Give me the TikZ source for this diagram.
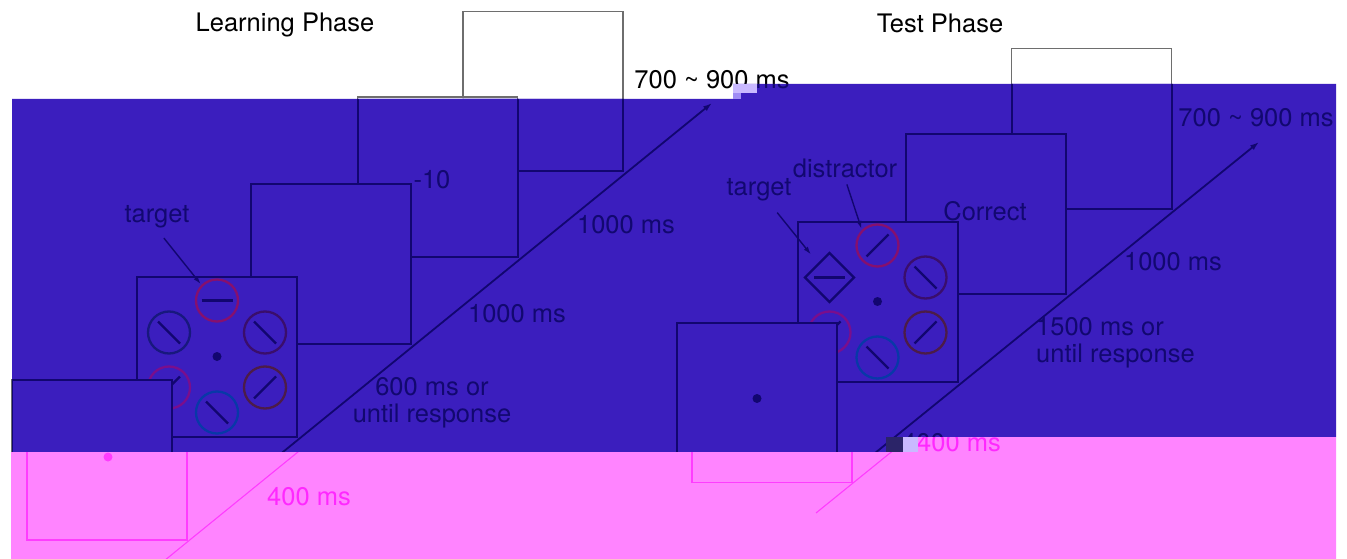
\documentclass[tikz,border=0pt]{standalone}
\usepackage{fontspec}
\setmainfont{TeX Gyre Heros}
\usepackage{tikz}
\usetikzlibrary{shapes.geometric, arrows.meta, positioning, calc}
\usepackage{xcolor}
\definecolor{bluewash}{HTML}{3B1EBE}
\definecolor{pinkwash}{HTML}{FF84FF}
\definecolor{navyline}{HTML}{120670}
\definecolor{navytext}{HTML}{120870}
\definecolor{pinkline}{HTML}{FF3CFF}
\definecolor{pinktext}{HTML}{FF28FF}
\definecolor{framegray}{HTML}{6E6E6E}
\definecolor{ringred}{HTML}{86106E}
\definecolor{ringnavy}{HTML}{18187E}
\definecolor{ringplum}{HTML}{3A0E6C}
\definecolor{ringviolet}{HTML}{7A0E8C}
\definecolor{ringbrown}{HTML}{4C1C48}
\definecolor{ringblue}{HTML}{0838A8}
\definecolor{glitchlight}{HTML}{C9B9FF}
\definecolor{glitchpale}{HTML}{9F8CF5}
\definecolor{glitchdark}{HTML}{2B2468}
\colorlet{fgcol}{framegray}
\colorlet{txcol}{black}
\colorlet{bgcol}{white}

\tikzset{
    screen/.style={draw=fgcol, fill=bgcol, line width=1.4pt, minimum width=160pt, minimum height=160pt, inner sep=0pt},
    ring/.style={circle, draw=#1, line width=2.3pt, minimum size=42pt, inner sep=0pt},
    bar/.style={draw=fgcol, line width=2.4pt},
    fixdot/.style={circle, fill=fgcol, minimum size=9pt, inner sep=0pt},
    lbl/.style={text=txcol, font=\fontsize{25.5}{27}\selectfont, inner sep=1pt},
    ptr/.style={draw=fgcol, line width=1.4pt, -{Latex[length=8pt,width=5pt]}},
    timeline/.style={draw=fgcol, line width=1.4pt, -{Latex[length=9pt,width=6pt]}},
}

% bars inside the search items
\newcommand{\backbar}[1]{\draw[bar] ($(#1)+(-11,-11)$) -- ($(#1)+(11,11)$);}
\newcommand{\fwdbar}[1]{\draw[bar] ($(#1)+(-11,11)$) -- ($(#1)+(11,-11)$);}
\newcommand{\flatbar}[1]{\draw[bar] ($(#1)+(-15.5,0)$) -- ($(#1)+(15.5,0)$);}

% both trial sequences
\newcommand{\drawtrials}{%
    % learning phase
    \node[lbl] (lphase) at (285,25) {Learning Phase};
    \node[screen] (liti) at (543,91.5) {};
    \node[screen] (lfeed) at (437.5,177) {};
    \node[lbl] (lfeedtxt) at (432,180) {-10};
    \node[screen] (lblank) at (331,264) {};
    \node[screen] (lsearch) at (217,356.5) {};
    \node[ring=ringred] (ltop) at ($(lsearch)+(0,-56)$) {};
    \node[ring=ringnavy] (lul) at ($(lsearch)+(-48,-24)$) {};
    \node[ring=ringplum] (lur) at ($(lsearch)+(48,-24)$) {};
    \node[ring=ringviolet] (lll) at ($(lsearch)+(-48,31)$) {};
    \node[ring=ringbrown] (llr) at ($(lsearch)+(48,31)$) {};
    \node[ring=ringblue] (lbot) at ($(lsearch)+(0,56)$) {};
    \flatbar{ltop}
    \backbar{lul}
    \backbar{lur}
    \fwdbar{lll}
    \fwdbar{llr}
    \backbar{lbot}
    \node[fixdot] (ldot) at (lsearch) {};
    \node[lbl] (ltarglab) at (157,217) {target};
    \draw[ptr, shorten <=11pt, shorten >=1pt] (ltarglab.south) -- (ltop.north west);
    \node[screen] (lfix) at (92,460) {};
    \node[fixdot] (lfixdot) at ($(lfix)+(1,-3)$) {};
    \coordinate (lstart) at (144,565);
    \coordinate (lend) at (712,103);
    \draw[timeline] (lstart) -- (lend);
    \node[lbl] (lt1) at (712,80) {700 \textasciitilde{} 900 ms};
    \node[lbl] (lt2) at (626,225) {1000 ms};
    \node[lbl] (lt3) at (517,314) {1000 ms};
    \node[lbl, align=center] (lt4) at (432,403) {600 ms or\\until response};
    \node[lbl] (lt5) at (294,497) {400 ms};
    % test phase
    \node[lbl] (tphase) at (940,23) {Test Phase};
    \node[screen] (titi) at (1091.5,128.5) {};
    \node[screen] (tfeed) at (986,214) {};
    \node[lbl] (tfeedtxt) at (985,211) {Correct};
    \node[screen] (tsearch) at (877.5,301.5) {};
    \node[ring=ringred] (ttop) at ($(tsearch)+(0,-56)$) {};
    \node[diamond, draw=fgcol, line width=2.2pt, minimum size=50pt, inner sep=0pt] (tdiam) at ($(tsearch)+(-48,-24)$) {};
    \node[ring=ringplum] (tur) at ($(tsearch)+(48,-24)$) {};
    \node[ring=ringviolet] (tll) at ($(tsearch)+(-48,31)$) {};
    \node[ring=ringbrown] (tlr) at ($(tsearch)+(48,31)$) {};
    \node[ring=ringblue] (tbot) at ($(tsearch)+(0,56)$) {};
    \fwdbar{ttop}
    \flatbar{tdiam}
    \backbar{tur}
    \fwdbar{tll}
    \fwdbar{tlr}
    \backbar{tbot}
    \node[fixdot] (tdot) at (tsearch) {};
    \node[lbl] (ttarglab) at (759,190) {target};
    \draw[ptr, shorten <=13pt, shorten >=11pt] (ttarglab) -- (tdiam);
    \node[lbl] (tdistlab) at (845,168) {distractor};
    \draw[ptr, shorten <=6pt, shorten >=1pt] (tdistlab.south) -- (ttop.north west);
    \node[screen] (tfix) at (757,402.5) {};
    \node[fixdot] (tfixdot) at ($(tfix)+(0,-4)$) {};
    \coordinate (tstart) at (801,513);
    \coordinate (tend) at (1259,142);
    \draw[timeline] (tstart) -- (tend);
    \node[lbl] (tt1) at (1256,118) {700 \textasciitilde{} 900 ms};
    \node[lbl] (tt2) at (1173,262) {1000 ms};
    \node[lbl, align=left, anchor=west] (tt3) at (1035,343) {1500 ms or\\until response};
    \node[lbl] (tt4) at (944,443) {400 ms};
}

\begin{document}
\begin{tikzpicture}[x=1pt, y=-1pt]
    \useasboundingbox (0,0) rectangle (1347,559);
    \fill[white] (0,0) rectangle (1347,559);
    \drawtrials
    % blue band
    \begin{scope}
        \clip (12,99) -- (733,99) -- (733,84) -- (1336,84) -- (1336,437) -- (886,437) -- (886,452) -- (12,452) -- cycle;
        \fill[bluewash] (0,0) rectangle (1347,559);
        \colorlet{fgcol}{navyline}
        \colorlet{txcol}{navytext}
        \colorlet{bgcol}{bluewash}
        \tikzset{screen/.append style={line width=2pt}, timeline/.append style={line width=1.8pt}}
        \drawtrials
    \end{scope}
    % pink band, slid to the right
    \begin{scope}
        \clip (11,452) -- (886,452) -- (886,437) -- (1336,437) -- (1336,559) -- (11,559) -- cycle;
        \fill[pinkwash] (0,0) rectangle (1347,559);
        \colorlet{fgcol}{pinkline}
        \colorlet{txcol}{pinktext}
        \colorlet{bgcol}{pinkwash}
        \tikzset{screen/.append style={line width=1.1pt}, timeline/.append style={line width=1.1pt}}
        \begin{scope}[xshift=15pt]
            \drawtrials
        \end{scope}
    \end{scope}
    % broken blocks
    \fill[glitchlight] (733,84) rectangle (757,93);
    \fill[glitchpale] (733,93) rectangle (741,99);
    \fill[glitchdark] (886,437) rectangle (903,452);
    \fill[glitchlight] (903,437) rectangle (918,452);
\end{tikzpicture}
\end{document}
